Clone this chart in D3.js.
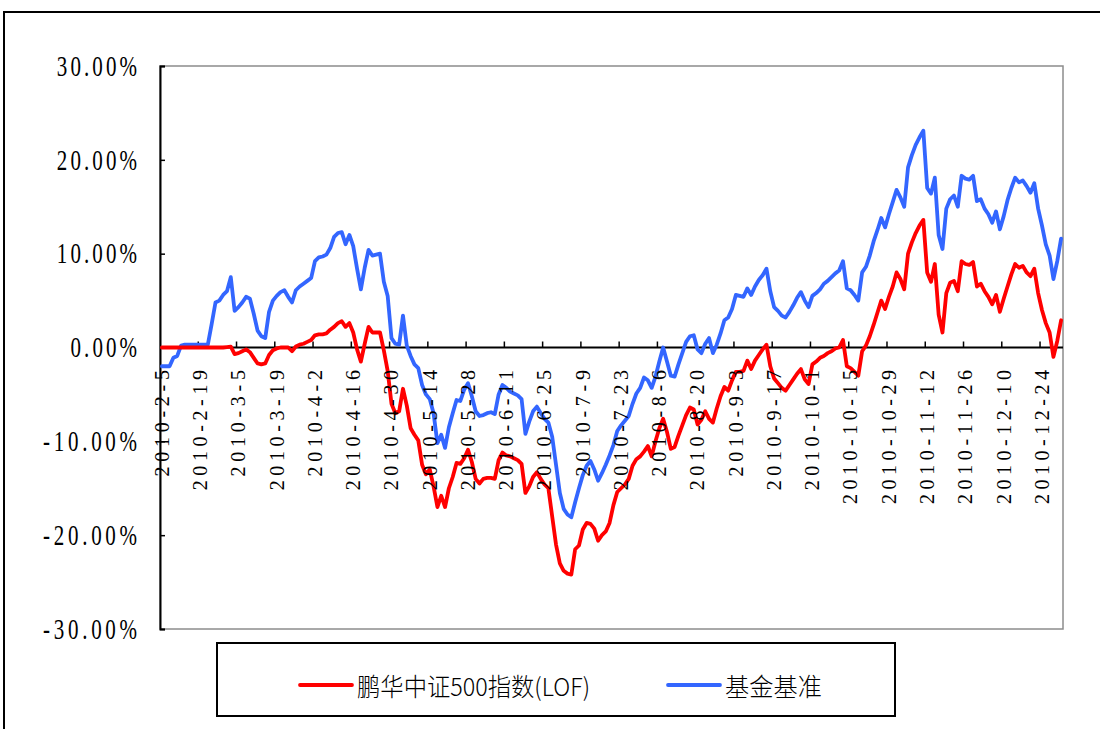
<!DOCTYPE html>
<html>
<head>
<meta charset="utf-8">
<script src="https://cdn.jsdelivr.net/npm/d3@7"></script>
<style>
  html, body { margin: 0; padding: 0; background: #fff; }
  svg { display: block; }
</style>
</head>
<body>
<script>
/**
 * DATA
 */
const tickLabels = [
  "2010-2-5", "2010-2-19", "2010-3-5", "2010-3-19", "2010-4-2", "2010-4-16",
  "2010-4-30", "2010-5-14", "2010-5-28", "2010-6-11", "2010-6-25", "2010-7-9",
  "2010-7-23", "2010-8-6", "2010-8-20", "2010-9-3", "2010-9-17", "2010-10-1",
  "2010-10-15", "2010-10-29", "2010-11-12", "2010-11-26", "2010-12-10", "2010-12-24",
];

const yTicks = [30, 20, 10, 0, -10, -20, -30];

// 鹏华中证500指数(LOF), cumulative return in %
const fundValues = [
  0.0, 0.0, 0.0, 0.0, 0.0, 0.0, 0.0, 0.0, 0.0, 0.0,
  0.0, 0.0, 0.0, 0.0, 0.0, 0.0, 0.0, 0.05, 0.1, -0.7,
  -0.6, -0.4, -0.2, -0.5, -1.1, -1.7, -1.8, -1.7, -0.8, -0.3,
  -0.1, 0.0, 0.0, 0.0, -0.4, 0.1, 0.3, 0.4, 0.6, 0.8,
  1.3, 1.4, 1.4, 1.5, 1.9, 2.2, 2.6, 2.8, 2.2, 2.6,
  1.6, -0.2, -1.5, 0.4, 2.2, 1.6, 1.6, 1.6, -0.3, -2.5,
  -6.0, -7.0, -6.8, -4.4, -6.2, -8.6, -9.3, -9.9, -12.5, -13.5,
  -13.0, -14.8, -17.0, -15.8, -17.0, -15.0, -13.8, -12.3, -12.4, -11.8,
  -10.9, -12.2, -14.0, -14.5, -14.0, -13.9, -13.9, -14.0, -12.0, -11.2,
  -11.5, -11.6, -11.8, -12.0, -12.4, -15.5, -14.8, -13.8, -13.3, -14.0,
  -14.6, -15.0, -18.0, -21.0, -23.0, -23.8, -24.1, -24.2, -21.5, -21.1,
  -19.4, -18.7, -18.8, -19.3, -20.6, -20.0, -19.6, -18.7, -16.8, -15.4,
  -15.0, -14.6, -14.0, -12.6, -11.9, -11.6, -11.1, -10.5, -11.6, -10.0,
  -8.6, -7.6, -9.0, -10.8, -10.6, -9.4, -8.3, -7.2, -6.4, -6.6,
  -8.2, -7.7, -6.8, -7.6, -8.0, -6.5, -5.2, -4.2, -4.6, -3.5,
  -2.6, -2.6, -2.5, -1.4, -2.3, -1.4, -0.8, -0.2, 0.3, -2.0,
  -3.3, -3.8, -4.3, -4.6, -4.0, -3.4, -2.8, -2.3, -3.4, -3.9,
  -1.8, -1.5, -1.1, -0.9, -0.6, -0.4, -0.1, 0.0, 0.8, -2.0,
  -2.2, -2.6, -3.0, -0.4, 0.2, 1.2, 2.4, 3.7, 5.0, 4.1,
  5.4, 6.5, 8.0, 7.3, 6.2, 10.0, 11.2, 12.2, 13.0, 13.6,
  8.0, 7.0, 8.9, 3.5, 1.6, 5.8, 6.9, 7.1, 6.0, 9.2,
  8.9, 8.8, 9.1, 6.5, 6.8, 6.0, 5.4, 4.6, 5.6, 3.8,
  5.2, 6.5, 7.8, 8.9, 8.5, 8.7, 8.0, 7.6, 8.4, 5.8,
  4.0, 2.6, 1.6, -1.0, 0.7, 2.9,
];

// 基金基准, cumulative return in %
const benchValues = [
  -2.0, -2.0, -2.0, -1.1, -0.9, 0.2, 0.3, 0.3, 0.3, 0.3,
  0.3, 0.3, 0.3, 2.5, 4.8, 5.0, 5.6, 6.0, 7.5, 3.9,
  4.3, 4.8, 5.4, 5.2, 3.6, 1.8, 1.2, 1.0, 3.8, 5.0,
  5.5, 5.9, 6.1, 5.4, 4.8, 6.1, 6.5, 6.8, 7.1, 7.4,
  9.2, 9.6, 9.7, 9.9, 10.6, 11.8, 12.2, 12.3, 11.0, 12.0,
  10.8, 8.4, 6.2, 8.5, 10.4, 9.8, 9.9, 10.0, 7.0, 5.5,
  1.0, 0.4, 0.3, 3.4, 0.2, -0.9, -1.8, -2.2, -4.0, -5.0,
  -5.5, -7.0, -10.2, -9.3, -10.7, -8.5, -7.0, -5.6, -5.7, -4.5,
  -3.8, -5.2, -6.8, -7.3, -7.2, -7.0, -6.9, -7.1, -5.0, -4.0,
  -4.3, -4.7, -4.9, -5.1, -5.5, -9.2, -7.9, -6.8, -6.3, -7.0,
  -7.6, -8.0, -9.5, -12.5, -15.5, -17.2, -17.8, -18.1, -16.5, -15.0,
  -13.6, -12.6, -12.1, -13.0, -14.2, -13.4, -12.5, -11.5, -10.4, -8.9,
  -8.3, -7.8, -7.3, -6.0, -4.9, -4.3, -3.2, -3.5, -4.3, -3.1,
  -1.5, 0.0, -1.5, -3.0, -3.1, -1.8, -0.6, 0.6, 1.2, 1.3,
  -0.2, -0.6, 0.4, 1.0, -0.6, 0.3, 1.5, 2.9, 3.2, 4.1,
  5.6, 5.5, 5.4, 6.3, 5.6, 6.5, 7.2, 7.7, 8.4, 6.0,
  4.3, 3.9, 3.4, 3.2, 3.8, 4.5, 5.3, 5.9, 5.0, 4.3,
  5.5, 5.8, 6.2, 6.8, 7.1, 7.5, 7.9, 8.2, 9.2, 6.3,
  6.1, 5.6, 5.0, 8.0, 8.6, 9.8, 11.3, 12.5, 13.8, 12.8,
  14.2, 15.5, 16.8, 16.0, 15.0, 19.2, 20.5, 21.6, 22.4, 23.1,
  17.0, 16.4, 18.1, 12.0, 10.5, 14.8, 15.8, 16.2, 15.0, 18.3,
  18.0, 17.9, 18.3, 15.6, 15.8, 14.8, 14.2, 13.3, 14.5, 12.6,
  14.0, 15.7, 17.0, 18.1, 17.6, 17.8, 17.2, 16.5, 17.5, 14.8,
  13.0, 11.0, 9.8, 7.3, 9.2, 11.6,
];

const seriesNames = ["鹏华中证500指数(LOF)", "基金基准"];

/**
 * CONSTANTS
 */
const WIDTH = 1100;
const HEIGHT = 729;
const PLOT = { left: 160, right: 1063, top: 66, bottom: 629 };
const RED = "#ff0000";
const BLUE = "#3366ff";
const LINE_WIDTH = 3.8;
const CHAR_ADVANCE = 13.7; // half-width glyphs in the original are evenly spaced
const NUM_FONT = "'Liberation Serif', 'DejaVu Serif', serif";
const CJK_FONT = "'Noto Sans CJK SC', 'Noto Sans', sans-serif";

// Weekday categories from the first to the last trading day shown
const fmtDay = (d) => `${d.getFullYear()}-${d.getMonth() + 1}-${d.getDate()}`;
const dates = d3.timeDay
  .range(new Date(2010, 1, 5), new Date(2010, 11, 32))
  .filter((d) => d.getDay() !== 0 && d.getDay() !== 6)
  .map(fmtDay);

/**
 * SETUP
 */
const svg = d3
  .select("body")
  .append("svg")
  .attr("width", WIDTH)
  .attr("height", HEIGHT);

const x = d3
  .scaleBand()
  .domain(d3.range(fundValues.length))
  .range([PLOT.left, PLOT.right])
  .padding(0);

const y = d3.scaleLinear().domain([-30, 30]).range([PLOT.bottom, PLOT.top]);

const xMid = (i) => x(i) + x.bandwidth() / 2;

// Outer chart frame (only top and left edges are inside the picture)
svg
  .append("path")
  .attr("d", `M4,${HEIGHT} V12 H${WIDTH}`)
  .attr("fill", "none")
  .attr("stroke", "#000")
  .attr("stroke-width", 2);

// Plot area border
svg
  .append("rect")
  .attr("x", PLOT.left)
  .attr("y", PLOT.top)
  .attr("width", PLOT.right - PLOT.left)
  .attr("height", PLOT.bottom - PLOT.top)
  .attr("fill", "#fff")
  .attr("stroke", "#8c8c8c")
  .attr("stroke-width", 1.5);

/**
 * Y AXIS
 */
const yAxis = svg
  .append("g")
  .attr("transform", `translate(${PLOT.left},0)`)
  .call(d3.axisRight(y).tickValues(yTicks).tickSize(5).tickFormat(""));
yAxis.select(".domain").attr("stroke", "#000").attr("stroke-width", 2);
yAxis.selectAll(".tick line").attr("stroke", "#000").attr("stroke-width", 1.5);

const yLabel = (d) => `${d.toFixed(2)}%`;
svg
  .append("g")
  .selectAll("text")
  .data(yTicks)
  .join("text")
  .attr("transform", (d) => `translate(137,${y(d)}) scale(1,1.4)`)
  .attr("text-anchor", "end")
  .attr("dominant-baseline", "central")
  .attr("font-family", NUM_FONT)
  .attr("font-size", "21px")
  .attr("fill", "#000")
  .attr("textLength", (d) => yLabel(d).length * CHAR_ADVANCE - 2)
  .attr("lengthAdjust", "spacing")
  .text(yLabel);

/**
 * X AXIS (sits on the zero line)
 */
const tickIdx = tickLabels.map((l) => dates.indexOf(l));

const xAxis = svg.append("g").attr("transform", `translate(0,${y(0)})`);
xAxis
  .append("line")
  .attr("x1", PLOT.left)
  .attr("x2", PLOT.right)
  .attr("stroke", "#000")
  .attr("stroke-width", 2);
xAxis
  .selectAll("line.tick")
  .data(tickIdx.slice(1))
  .join("line")
  .attr("class", "tick")
  .attr("x1", (i) => x(i))
  .attr("x2", (i) => x(i))
  .attr("y1", 0)
  .attr("y2", -6)
  .attr("stroke", "#000")
  .attr("stroke-width", 1.5);

/**
 * LINES
 */
const line = d3
  .line()
  .x((d, i) => xMid(i))
  .y((d) => y(d))
  .curve(d3.curveLinear);

svg
  .append("path")
  .datum(benchValues)
  .attr("d", line)
  .attr("fill", "none")
  .attr("stroke", BLUE)
  .attr("stroke-width", LINE_WIDTH)
  .attr("stroke-linejoin", "round")
  .attr("stroke-linecap", "round");

svg
  .append("path")
  .datum(fundValues)
  .attr("d", line)
  .attr("fill", "none")
  .attr("stroke", RED)
  .attr("stroke-width", LINE_WIDTH)
  .attr("stroke-linejoin", "round")
  .attr("stroke-linecap", "round");

// Category labels are drawn after the lines, rotated to read upwards
svg
  .append("g")
  .selectAll("text")
  .data(tickLabels)
  .join("text")
  .attr(
    "transform",
    (d) => `translate(${xMid(dates.indexOf(d))},370) rotate(-90)`
  )
  .attr("text-anchor", "end")
  .attr("dy", "0.34em")
  .attr("font-family", NUM_FONT)
  .attr("font-size", "20px")
  .attr("fill", "#000")
  .attr("textLength", (d) => d.length * CHAR_ADVANCE - 3)
  .attr("lengthAdjust", "spacing")
  .text((d) => d);

/**
 * LEGEND
 */
const legend = svg.append("g");
legend
  .append("rect")
  .attr("x", 217)
  .attr("y", 643)
  .attr("width", 678)
  .attr("height", 73)
  .attr("fill", "#fff")
  .attr("stroke", "#000")
  .attr("stroke-width", 2);

const legendItems = [
  { name: seriesNames[0], color: RED, x: 300, textLen: 233 },
  { name: seriesNames[1], color: BLUE, x: 668, textLen: 97 },
];

const item = legend
  .selectAll("g.item")
  .data(legendItems)
  .join("g")
  .attr("class", "item")
  .attr("transform", (d) => `translate(${d.x},685)`);

item
  .append("line")
  .attr("x1", 0)
  .attr("x2", 52)
  .attr("stroke", (d) => d.color)
  .attr("stroke-width", LINE_WIDTH)
  .attr("stroke-linecap", "round");

item
  .append("text")
  .attr("x", 57)
  .attr("transform", "scale(1,1.08)")
  .attr("dominant-baseline", "central")
  .attr("font-family", CJK_FONT)
  .attr("font-size", "23px")
  .attr("font-weight", 300)
  .attr("fill", "#000")
  .attr("textLength", (d) => d.textLen)
  .attr("lengthAdjust", "spacingAndGlyphs")
  .text((d) => d.name);
</script>
</body>
</html>
